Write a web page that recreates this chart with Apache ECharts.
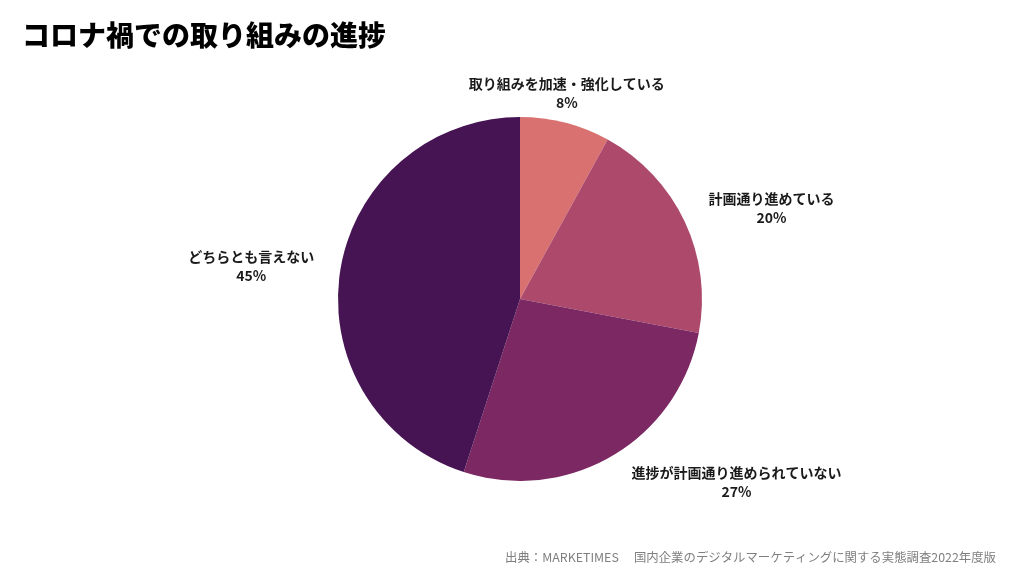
<!DOCTYPE html>
<html>
<head>
<meta charset="utf-8">
<script src="https://cdn.jsdelivr.net/npm/echarts@6/dist/echarts.min.js"></script>
<style>
html,body{margin:0;padding:0;background:#fff;}
#chart{width:1024px;height:576px;}
</style>
</head>
<body>
<div id="chart"></div>
<script>
const categories = ['取り組みを加速・強化している', '計画通り進めている', '進捗が計画通り進められていない', 'どちらとも言えない'];
const values = [8, 20, 27, 45];
const colors = ['#d97171', '#ad4a6b', '#7c2863', '#461353'];
const titleText = 'コロナ禍での取り組みの進捗';
const sourceText = '出典：MARKETIMES　 国内企業のデジタルマーケティングに関する実態調査2022年度版';

const CX = 520, CY = 299, R = 182, GAP = 6;
const total = values.reduce((a, b) => a + b, 0);
const midAngles = [];
let acc = 0;
values.forEach(v => { midAngles.push((acc + v / 2) / total * 2 * Math.PI); acc += v; });

const chart = echarts.init(document.getElementById('chart'), null, {renderer: 'canvas'});
chart.setOption({
  backgroundColor: '#ffffff',
  animation: false,
  title: [{
    text: titleText,
    left: 17, top: 16,
    textStyle: {fontFamily: 'Noto Sans CJK JP', fontSize: 28, fontWeight: 900, color: '#000'}
  }, {
    text: sourceText,
    right: 23, top: 546,
    textStyle: {fontFamily: 'Noto Sans CJK JP', fontSize: 12.4, fontWeight: 'normal', color: '#7f7f7f'}
  }],
  series: [{
    type: 'pie',
    center: [CX, CY],
    radius: R,
    startAngle: 90,
    clockwise: true,
    color: colors,
    data: categories.map((c, i) => ({name: c, value: values[i]})),
    itemStyle: {borderWidth: 0},
    label: {
      show: true,
      position: 'outside',
      formatter: '{b}\n{c}%',
      fontFamily: 'Noto Sans CJK JP',
      fontSize: 14,
      fontWeight: 'bold',
      lineHeight: 19,
      color: '#1a1a1a',
      align: 'center'
    },
    labelLine: {show: false},
    emphasis: {disabled: true},
    labelLayout: function (p) {
      const a = midAngles[p.dataIndex];
      const ux = Math.sin(a), uy = -Math.cos(a);
      const w = p.labelRect.width, h = p.labelRect.height;
      const px = CX + (R + GAP) * ux, py = CY + (R + GAP) * uy;
      const sx = Math.abs(ux) > 0.3 ? Math.sign(ux) : 0;
      return {
        x: px + sx * (w / 2 + h / 2 + 2 - 6 * Math.abs(uy)),
        y: py + uy * 1.3 * h / 2,
        align: 'center',
        verticalAlign: 'middle'
      };
    }
  }]
});
</script>
</body>
</html>
